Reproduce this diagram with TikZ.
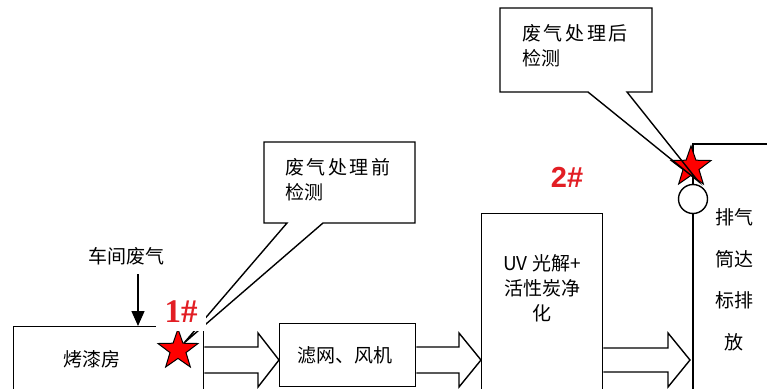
\documentclass[tikz,border=0pt]{standalone}
\usepackage{fontspec}
\setmainfont{Liberation Serif}
\newfontfamily\cjk{Noto Sans CJK SC}
\newfontfamily\tagsans{Liberation Sans}
\usetikzlibrary{shapes.geometric,calc,arrows.meta}
\definecolor{tagred}{RGB}{226,30,36}
\newcommand\csp{\hspace{2.6pt}}
\begin{document}
\begin{tikzpicture}[x=1pt,y=-1pt,
  box/.style={draw, line width=1.4pt, fill=white, inner sep=0pt, anchor=north west},
  txt/.style={font=\cjk\fontsize{19}{25}\selectfont, inner sep=0pt, align=center},
  ltxt/.style={font=\cjk\fontsize{19}{25}\selectfont, inner sep=0pt, align=left, anchor=west},
  hollow/.style={draw, line width=1.4pt, fill=white, line join=miter},
  callout/.style={draw, line width=1.4pt, line join=miter},
  redstar/.style={star, star points=5, star point ratio=2.5, draw, fill=red, line width=1pt, minimum size=42pt, inner sep=0pt},
  ring/.style={circle, draw, line width=1.4pt, fill=white, minimum size=29pt, inner sep=0pt},
  tag/.style={text=tagred, fill=white, inner sep=0pt, minimum width=50pt, minimum height=37pt}
]
\useasboundingbox (0,0) rectangle (767,388);
\clip (0,0) rectangle (767,388);

% boxes
\node[box, minimum width=190pt, minimum height=80pt] (kq) at (13,326) {};
\node[txt] (kqt) at (92,359) {烤漆房};
\node[box, minimum width=136pt, minimum height=63pt] (lw) at (279,323) {};
\node[txt] (lwt) at (345,355) {滤网、风机};
\node[box, minimum width=121pt, minimum height=178pt] (uv) at (481,213) {};
\node[txt] (uvt) at (542,288) {UV 光解+\\活性炭净\\化};

% workshop gas
\node[txt] (cj) at (126,256) {车间废气};
\coordinate (cjin) at (138,326);
\coordinate (cjout) at (138,274);
\draw[line width=1.4pt, -{Triangle[length=15pt,width=13pt]}] (cjout) -- (cjin);

% stack
\node[ring] (ring) at (693,199) {};
\coordinate (stktop) at (693,144);
\coordinate (stkend) at (790,144);
\coordinate (stkbot) at (693,400);
\draw[line width=1.4pt] (ring.south) -- (stkbot);
\draw[line width=1.4pt] (ring.north) -- (stktop) -- (stkend);
\node[font=\cjk\fontsize{19}{41.5}\selectfont, inner sep=0pt, align=center] (pq) at (734,280) {排气\\筒达\\标排\\放};

% hollow arrows
\draw[hollow] let \p1=(kq.east), \p2=(lw.west) in
  (\x1,347) -- ({\x2-21pt},347) -- ({\x2-21pt},333) -- (\x2,360) -- ({\x2-21pt},387) -- ({\x2-21pt},373) -- (\x1,373);
\draw[hollow] let \p1=(lw.east), \p2=(uv.west) in
  (\x1,347) -- ({\x2-22pt},347) -- ({\x2-22pt},333) -- (\x2,360) -- ({\x2-22pt},387) -- ({\x2-22pt},373) -- (\x1,373);
\draw[hollow] let \p1=(uv.east), \p2=(ring.center) in
  (\x1,348) -- ({\x2-25pt},348) -- ({\x2-25pt},333) -- ({\x2-3pt},360) -- ({\x2-25pt},387) -- ({\x2-25pt},372) -- (\x1,372);

% stars
\node[redstar] (s1) at (178,350) {};
\node[redstar] (s2) at (691,167) {};
\coordinate (tip1) at (184,343);
\coordinate (tip2) at (698,181);

% callout 1
\coordinate (c1nw) at (264,142);
\coordinate (c1se) at (415,223);
\draw[callout] (c1nw) -- (c1nw -| c1se) -- (c1se) -- ($(c1nw |- c1se)+(59,0)$) -- (tip1) -- ($(c1nw |- c1se)+(23,0)$) -- (c1nw |- c1se) -- cycle;
\node[ltxt] (c1t) at (285,180) {废\csp 气\csp 处\csp 理\csp 前\\检测};

% callout 2
\coordinate (c2nw) at (500,8);
\coordinate (c2se) at (652,92);
\draw[callout] (c2nw) -- (c2nw -| c2se) -- (c2se) -- ($(c2nw |- c2se)+(127,0)$) -- (tip2) -- ($(c2nw |- c2se)+(88,0)$) -- (c2nw |- c2se) -- cycle;
\node[ltxt] (c2t) at (522,46) {废\csp 气\csp 处\csp 理\csp 后\\检测};

% tags
\node[tag, font=\bfseries\fontsize{33}{33}\selectfont] (t1) at (181,312) {1\#};
\node[tag, font=\tagsans\bfseries\fontsize{29}{29}\selectfont, fill=none] (t2) at (567,177) {2\#};
\end{tikzpicture}
\end{document}
